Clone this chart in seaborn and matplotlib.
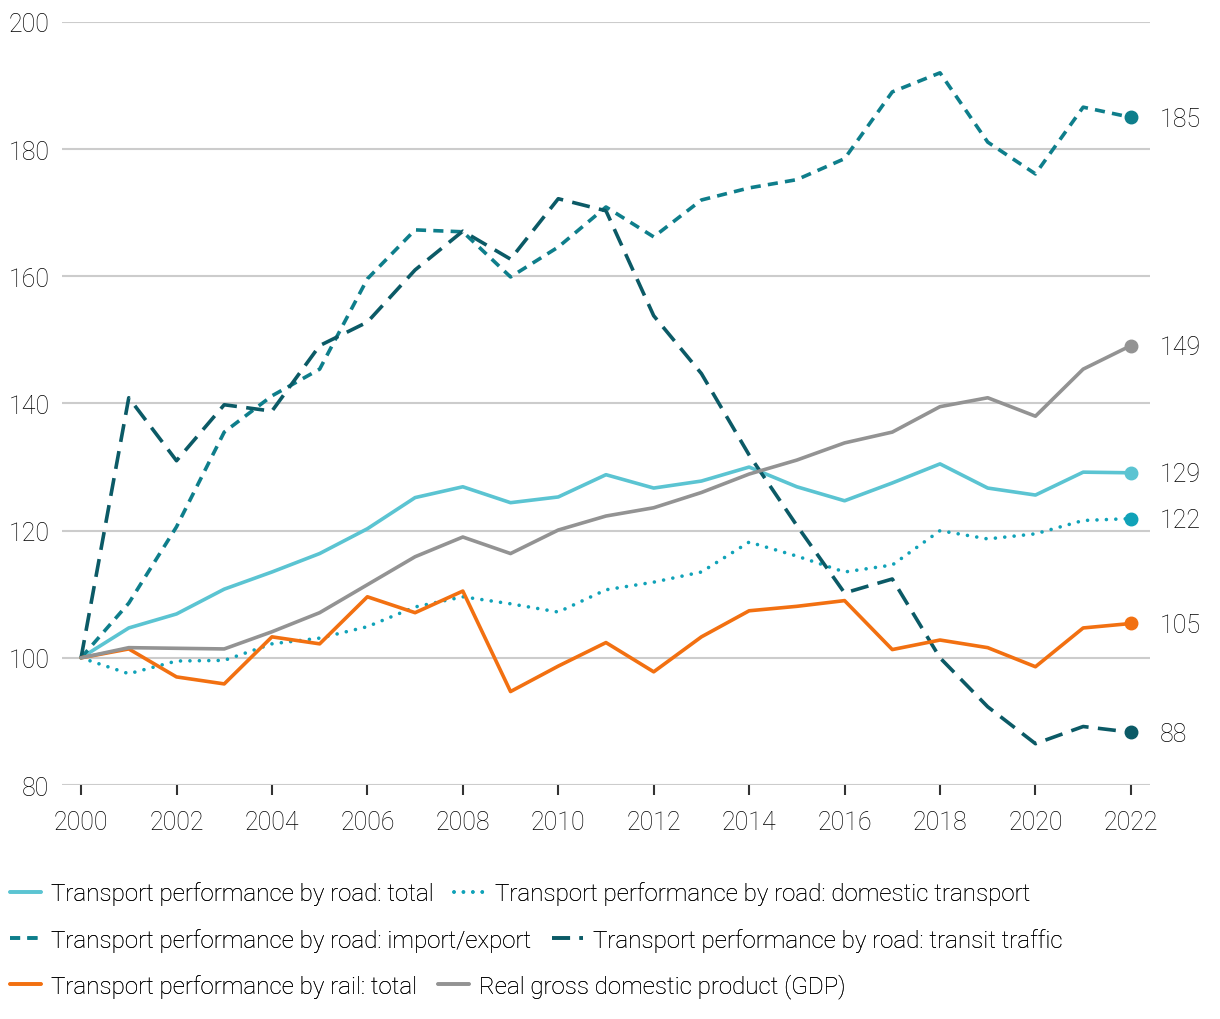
import matplotlib
matplotlib.use("Agg")
import matplotlib.pyplot as plt
from matplotlib.lines import Line2D
import seaborn as sns
import pandas as pd

years = list(range(2000, 2023))

road_total = [100, 104.7, 106.9, 110.8, 113.5, 116.4, 120.3, 125.2, 126.9, 124.4, 125.3, 128.8,
              126.7, 127.8, 130.0, 126.9, 124.7, 127.5, 130.5, 126.7, 125.6, 129.2, 129.1]
road_domestic = [100, 97.5, 99.5, 99.6, 102.2, 103.1, 104.9, 108.0, 109.6, 108.5, 107.2, 110.7,
                 111.9, 113.5, 118.2, 116.0, 113.5, 114.6, 120.0, 118.7, 119.5, 121.6, 121.9]
road_impexp = [100, 108.6, 120.6, 135.5, 141.2, 145.4, 159.6, 167.3, 167.0, 159.9, 164.6, 170.9,
               166.2, 172.0, 173.9, 175.2, 178.5, 189.0, 192.0, 181.1, 176.1, 186.6, 185.0]
road_transit = [100, 140.9, 131.0, 139.8, 138.8, 149.1, 152.8, 161.0, 167.1, 162.7, 172.2, 170.3,
                153.8, 144.7, 131.9, 120.8, 110.2, 112.4, 100.0, 92.3, 86.5, 89.2, 88.3]
rail_total = [100, 101.4, 97.0, 95.9, 103.3, 102.2, 109.6, 107.1, 110.5, 94.7, 98.7, 102.4,
              97.8, 103.3, 107.4, 108.1, 109.0, 101.3, 102.8, 101.6, 98.6, 104.7, 105.4]
gdp = [100, 101.6, 101.5, 101.4, 104.1, 107.1, 111.5, 115.9, 119.0, 116.4, 120.1, 122.3,
       123.6, 126.0, 128.9, 131.1, 133.8, 135.5, 139.5, 140.9, 138.0, 145.4, 149.1]

labels = [
    "Transport performance by road: total",
    "Transport performance by road: domestic transport",
    "Transport performance by road: import/export",
    "Transport performance by road: transit traffic",
    "Transport performance by rail: total",
    "Real gross domestic product (GDP)",
]
series = [road_total, road_domestic, road_impexp, road_transit, rail_total, gdp]
colors = ["#5bc4d2", "#10a2b8", "#0e7e8b", "#0b5a66", "#f27011", "#939393"]
dashes = ["", (0.01, 2.6), (2.8, 2.0), (5.0, 2.6), "", ""]

df = pd.concat([pd.DataFrame({"year": years, "value": v, "series": lab})
                for lab, v in zip(labels, series)], ignore_index=True)

sns.set_style("white")
plt.rcParams["font.family"] = ["Roboto", "DejaVu Sans"]
plt.rcParams["font.weight"] = "light"
plt.rcParams["font.size"] = 18
TXT = "#000000"

fig = plt.figure(figsize=(12.2, 10.2), dpi=100)
ax = fig.add_axes([0.0508, 0.2294, 0.8918, 0.7481])

palette = dict(zip(labels, colors))
dash_map = dict(zip(labels, dashes))
sns.lineplot(data=df, x="year", y="value", hue="series", style="series",
             palette=palette, dashes=dash_map, linewidth=2.6, ax=ax, legend=False)

for line, lab in zip(ax.get_lines(), labels):
    if lab == labels[1]:
        line.set_dash_capstyle("round")

# end markers and labels
for lab, v, c in zip(labels, series, colors):
    ax.plot(years[-1], v[-1], "o", color=c, markersize=9, zorder=5)
    ax.annotate(f"{round(v[-1])}", (years[-1], v[-1]), xytext=(21, -1),
                textcoords="offset points", va="center", ha="left",
                fontsize=18, color=TXT, annotation_clip=False)

ax.set_xlim(1999.6, 2022.4)
ax.set_ylim(80, 200)
ax.set_yticks(range(80, 201, 20))
ax.set_xticks(range(2000, 2023, 2))
ax.set_xlabel("")
ax.set_ylabel("")
ax.yaxis.grid(True, color="#cccccc", linewidth=1.5)
ax.set_axisbelow(True)
for s in ax.spines.values():
    s.set_visible(False)
ax.tick_params(axis="y", left=False, length=0, pad=9, labelsize=18, labelcolor=TXT)
ax.tick_params(axis="x", bottom=True, length=7, width=1.5, color="#333333", pad=11,
               labelsize=18, labelcolor=TXT, direction="out")

# legend rows (flow layout like the original)
handles = []
for lab, c, d in zip(labels, colors, dashes):
    h = Line2D([0], [0], color=c, linewidth=2.6)
    if d:
        h.set_dashes(d)
        if lab == labels[1]:
            h.set_dash_capstyle("round")
    handles.append(h)

row_y = [0.1235, 0.0775, 0.0323]
for i, y in enumerate(row_y):
    leg = fig.legend(handles=handles[2 * i:2 * i + 2], labels=labels[2 * i:2 * i + 2],
                     loc="center left", bbox_to_anchor=(0.008, y), ncol=2,
                     frameon=False, borderpad=0, borderaxespad=0, handlelength=1.3,
                     handletextpad=0.4, columnspacing=0.85, fontsize=17.4,
                     labelcolor=TXT)
    fig.add_artist(leg)

fig.savefig("out.png", dpi=100)
